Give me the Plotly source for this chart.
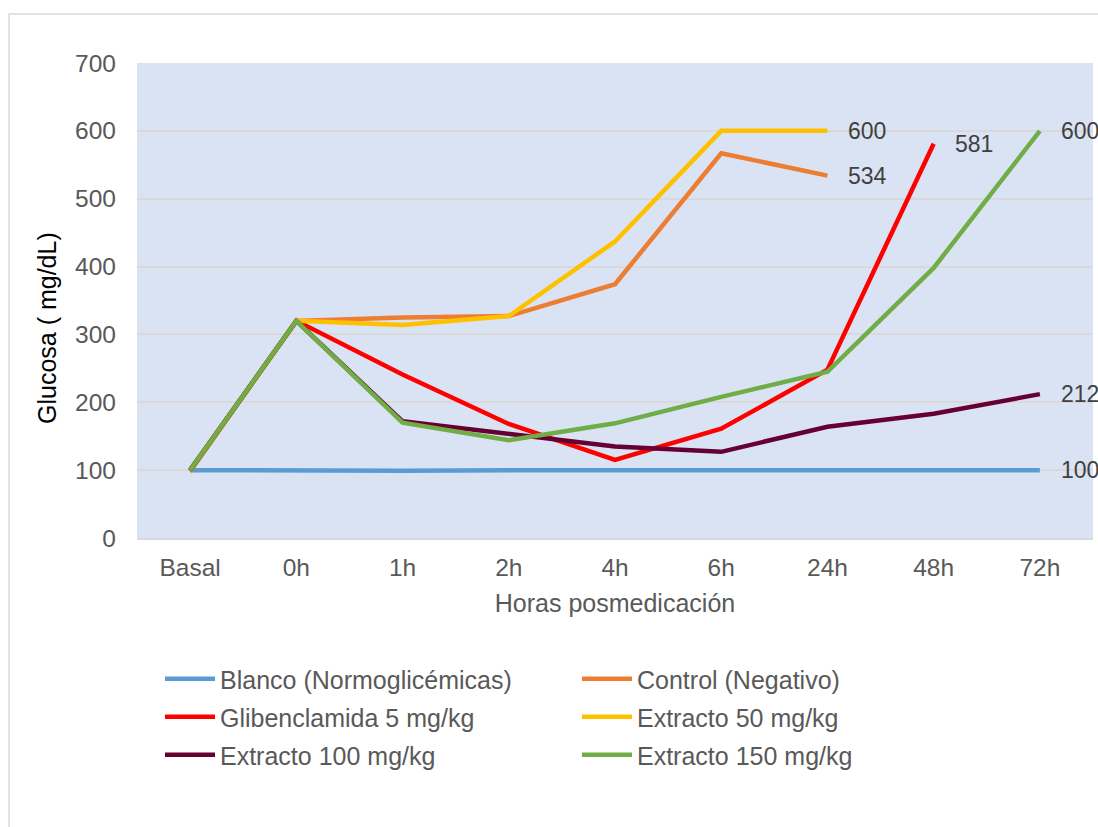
import plotly.graph_objects as go

# Sampling times after medication
horas = ["Basal", "0h", "1h", "2h", "4h", "6h", "24h", "48h", "72h"]

# Blood glucose (mg/dL) per treatment group; None where no measurement exists
blanco = [100, 99, 99, 100, 100, 99, 99, 99, 100]
control = [98, 320, 325, 327, 374, 567, 534, None, None]
glibenclamida = [100, 320, 241, 168, 115, 161, 248, 581, None]
extracto_50 = [100, 320, 314, 327, 437, 600, 600, None, None]
extracto_100 = [100, 320, 172, 153, 135, 127, 164, 183, 212]
extracto_150 = [100, 320, 170, 144, 169, 208, 245, 398, 600]

# (name, values, colour, legend row)
series = [
    ("Blanco (Normoglicémicas)", blanco, "#5B9BD5", "legend"),
    ("Control (Negativo)", control, "#ED7D31", "legend"),
    ("Glibenclamida 5 mg/kg", glibenclamida, "#FF0000", "legend2"),
    ("Extracto 50 mg/kg", extracto_50, "#FFC000", "legend2"),
    ("Extracto 100 mg/kg", extracto_100, "#660033", "legend3"),
    ("Extracto 150 mg/kg", extracto_150, "#70AD47", "legend3"),
]

FONT = "Liberation Sans, Arial, sans-serif"
W, H = 1098, 827
L, R, T, B = 137, 5, 63, 289
pw, ph = W - L - R, H - T - B

fig = go.Figure()
annotations = []
for name, vals, color, leg in series:
    fig.add_trace(go.Scatter(
        x=horas, y=vals, name=name, mode="lines",
        line=dict(color=color, width=4.5),
        connectgaps=False, legend=leg,
    ))
    # value label next to the last measured point
    last = max(i for i, v in enumerate(vals) if v is not None)
    annotations.append(dict(
        x=horas[last], y=vals[last], xref="x", yref="y",
        text=str(vals[last]), showarrow=False,
        xanchor="left", yanchor="middle", xshift=19,
        font=dict(family=FONT, size=23, color="#404040"),
    ))

# vertical axis title, placed slightly below the plot's centre
annotations.append(dict(
    text="Glucosa ( mg/dL)", textangle=-90, showarrow=False,
    xref="paper", yref="paper",
    x=(47 - L) / pw, y=(H - B - 328) / ph,
    xanchor="center", yanchor="middle",
    font=dict(family=FONT, size=25, color="#000000"),
))


def legend_row(top_px):
    return dict(
        orientation="h",
        x=(160 - L) / pw, xanchor="left",
        y=(H - B - top_px) / ph, yanchor="top",
        entrywidth=352, entrywidthmode="pixels",
        itemwidth=50,
        font=dict(family=FONT, size=25, color="#595959"),
        bgcolor="rgba(0,0,0,0)",
        traceorder="normal",
    )


fig.update_layout(
    width=W, height=H,
    margin=dict(l=L, r=R, t=T, b=B, autoexpand=False),
    paper_bgcolor="white",
    plot_bgcolor="#DAE3F3",
    font=dict(family=FONT, size=24, color="#595959"),
    annotations=annotations,
    showlegend=True,
    legend=legend_row(656),
    legend2=legend_row(694),
    legend3=legend_row(732),
    shapes=[dict(
        type="rect", xref="paper", yref="paper",
        x0=(9 - L) / pw, x1=1.5,
        y0=-1.5, y1=(H - B - 14) / ph,
        line=dict(color="#D9D9D9", width=1.5),
        fillcolor="rgba(0,0,0,0)", layer="below",
    )],
)

fig.update_xaxes(
    type="category", range=[-0.5, len(horas) - 0.5],
    showgrid=False, showline=True, linecolor="#D9D9D9", linewidth=1.5,
    ticks="", ticklabelstandoff=7,
    tickfont=dict(family=FONT, size=24.5, color="#595959"),
    title=dict(text="Horas posmedicación", standoff=14,
               font=dict(family=FONT, size=25, color="#595959")),
)
fig.update_yaxes(
    range=[0, 700], dtick=100, tick0=0,
    showgrid=True, gridcolor="#D9D9D9", gridwidth=1.5,
    zeroline=False, showline=False,
    ticks="", ticklabelstandoff=20,
    tickfont=dict(family=FONT, size=24.5, color="#595959"),
)

fig.write_html("out.html")
